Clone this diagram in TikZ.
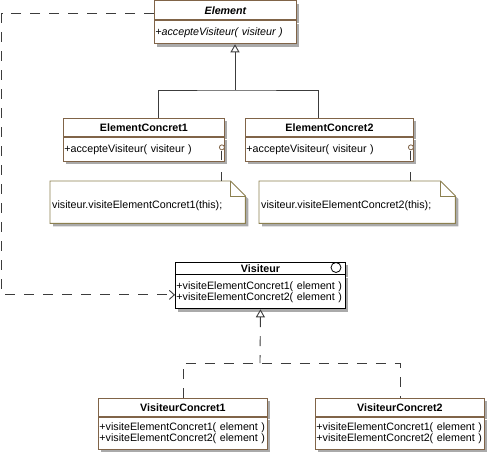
\documentclass[tikz,border=0pt]{standalone}
\usepackage{fontspec}
\setmainfont{Liberation Sans}
\usetikzlibrary{arrows.meta, positioning, calc, shadows}
\definecolor{umlbrown}{RGB}{128,100,72}
\definecolor{noteline}{RGB}{140,128,80}
\definecolor{umlshadow}{RGB}{170,170,170}
\definecolor{wire}{RGB}{60,60,60}
\newcommand\umltext{\fontsize{10.7pt}{11pt}\selectfont}

\tikzset{
  boxshadow/.style={drop shadow={shadow xshift=3pt, shadow yshift=-3pt, fill=umlshadow, opacity=1}},
  classhead/.style={draw=umlbrown, line width=0.9pt, fill=white, boxshadow, anchor=north west, inner sep=0pt, font=\umltext\bfseries},
  classops/.style={draw=umlbrown, line width=0.9pt, fill=white, boxshadow, anchor=north west, inner xsep=1pt, inner ysep=0pt, align=left, font=\umltext},
  anchorpt/.style={circle, draw=umlbrown, line width=0.8pt, fill=white, inner sep=0pt, minimum size=5pt},
  notebox/.style={anchor=north west, inner sep=0pt, minimum height=42},
  notetext/.style={anchor=west, inner sep=0pt, font=\umltext},
  wire/.style={draw=wire, line width=0.9pt},
  dep/.style={wire, dash pattern=on 10pt off 9pt},
  gen/.style={wire, -{Triangle[fill=white, length=8pt, width=9pt]}}
}
\newcommand\opline[1]{\mbox{#1}}

\begin{document}
\begin{tikzpicture}[x=1pt, y=-1pt]
  \useasboundingbox (0,0) rectangle (487,452);

  % abstract element
  \node[classhead, minimum width=142, minimum height=19, font=\umltext\bfseries\itshape] (elem) at (154,0.5) {Element};
  \node[classops, text width=140, minimum height=23, font=\umltext\itshape] (elemops) at (elem.south west) {\opline{+accepteVisiteur( visiteur )}};

  % concrete elements and their notes
  \foreach \i/\x/\w/\nx/\nw in {1/63/161/50/195, 2/245/168/259/196} {
    \node[classhead, minimum width=\w, minimum height=18] (ec\i) at (\x,118) {ElementConcret\i};
    \node[classops, text width=\w-2, minimum height=24] (ec\i ops) at (ec\i.south west) {\opline{+accepteVisiteur( visiteur )}};
    \node[anchorpt] (a\i) at ([shift={(-3,-2)}]ec\i ops.east) {};
    \node[notebox, minimum width=\nw] (note\i) at (\nx,181) {};
    \fill[umlshadow] ([shift={(3,3)}]note\i.north west) -- ([shift={(-12,3)}]note\i.north east)
      -- ([shift={(3,18)}]note\i.north east) -- ([shift={(3,3)}]note\i.south east)
      -- ([shift={(3,3)}]note\i.south west) -- cycle;
    \draw[noteline, line width=0.9pt, fill=white] (note\i.north west) -- ([shift={(-15,0)}]note\i.north east)
      -- ([shift={(0,15)}]note\i.north east) -- (note\i.south east) -- (note\i.south west) -- cycle;
    \draw[noteline, line width=0.9pt] ([shift={(-15,0)}]note\i.north east) -- ([shift={(-15,15)}]note\i.north east)
      -- ([shift={(0,15)}]note\i.north east);
    \node[notetext] (nt\i) at ([shift={(2,4)}]note\i.west) {visiteur.visiteElementConcret\i(this);};
    \draw[wire, dash pattern=on 9pt off 12pt] (note\i.north -| a\i) -- (a\i.south);
  }

  % inheritance tree
  \coordinate (ejoin) at (235,90);
  \draw[gen] (ejoin) -- (ejoin |- elemops.south);
  \draw[wire] ([xshift=14.5pt]ec1.north) |- (ejoin) -| ([xshift=-11pt]ec2.north);

  % visitor interface
  \node[classhead, draw=black, minimum width=170, minimum height=11.5] (vis) at (175,262) {Visiteur};
  \node[circle, draw=black, line width=0.8pt, minimum size=10, inner sep=0pt] (iface) at (336,267.5) {};
  \node[classops, draw=black, text width=168, minimum height=34] (visops) at (vis.south west)
    {\opline{+visiteElementConcret1( element )}\\\opline{+visiteElementConcret2( element )}};

  % concrete visitors
  \foreach \i/\x in {1/98, 2/315} {
    \node[classhead, minimum width=169, minimum height=18] (vc\i) at (\x,398) {VisiteurConcret\i};
    \node[classops, text width=167, minimum height=32] (vc\i ops) at (vc\i.south west)
      {\opline{+visiteElementConcret1( element )}\\\opline{+visiteElementConcret2( element )}};
  }

  % realization
  \coordinate (vjoin) at (260,363);
  \draw[dep, {Triangle[fill=white, length=8pt, width=9pt]}-] (visops.south) -- (vjoin);
  \draw[dep] (vc1.north) |- (vjoin) -| (vc2.north);

  % dependency element -> visitor
  \draw[dep, -{Straight Barb[length=5pt, width=9pt]}] ([yshift=-3.5pt]elem.west) -- ++(-152.5,0) |- ([yshift=-3pt]visops.west);
\end{tikzpicture}
\end{document}
